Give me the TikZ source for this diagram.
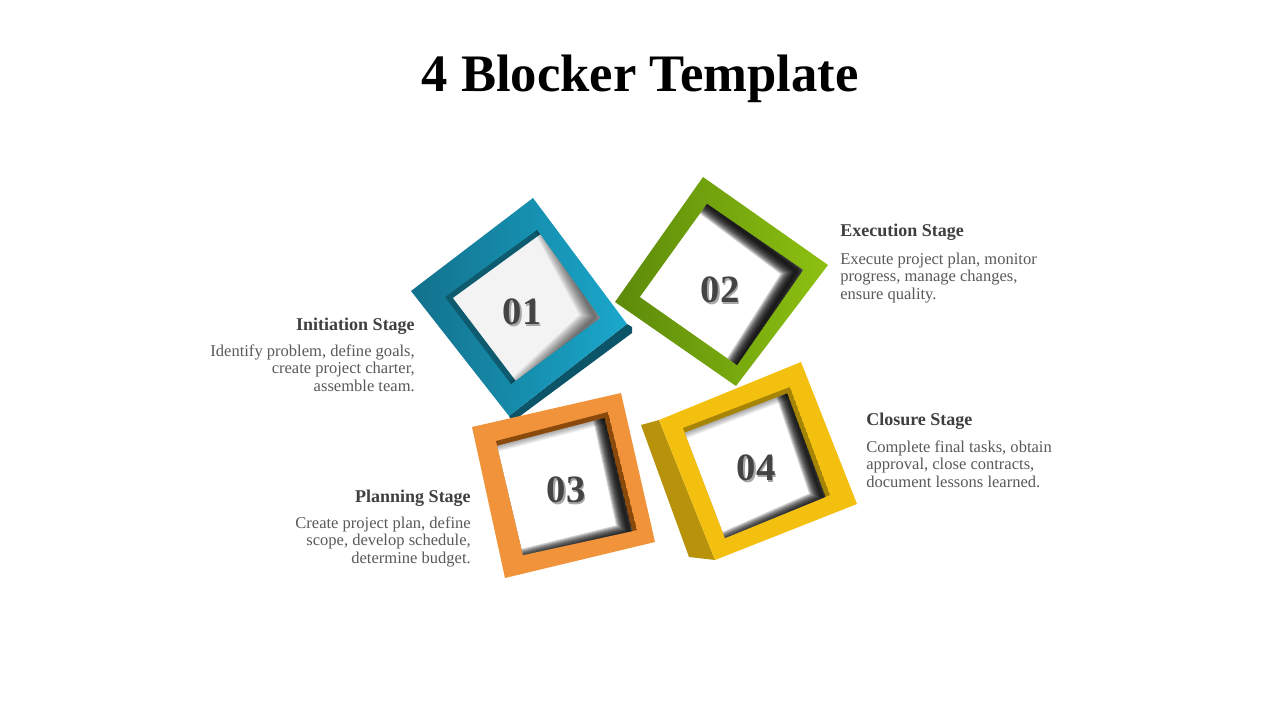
\documentclass[tikz,border=0pt]{standalone}
\usepackage{fontspec}
\setmainfont{Liberation Serif}
\usetikzlibrary{calc}
\definecolor{bluedark}{HTML}{12718C}
\definecolor{bluelight}{HTML}{1AA8CC}
\definecolor{blueside}{HTML}{0C5468}
\definecolor{bluestrip}{HTML}{0E5A6E}
\definecolor{greendark}{HTML}{5C8A0A}
\definecolor{greenlight}{HTML}{8EC111}
\definecolor{orangec}{HTML}{F0933A}
\definecolor{orangestrip}{HTML}{8A4A0C}
\definecolor{yellowc}{HTML}{F4C010}
\definecolor{yellowside}{HTML}{B8920A}
\definecolor{yellowstrip}{HTML}{A68406}
\definecolor{headgray}{HTML}{3F3F3F}
\definecolor{bodygray}{HTML}{595959}
\definecolor{numgray}{HTML}{444444}
\definecolor{paleface}{HTML}{F3F3F3}
\newcommand\shadnum[1]{\rlap{\hspace{1.4pt}\raisebox{-1.4pt}{\textcolor{black!35}{#1}}}#1}
\begin{document}
\begin{tikzpicture}[x=0.75pt,y=-0.75pt,
  titlestyle/.style={font=\fontsize{39.5}{44}\selectfont\bfseries, text=black, inner sep=0},
  numstyle/.style={font=\fontsize{29}{32}\selectfont\bfseries, text=numgray, inner sep=0},
  headstyle/.style={font=\fontsize{13.5}{15}\selectfont\bfseries, text=headgray, inner sep=0},
  bodystyle/.style={font=\fontsize{12.4}{13.1}\selectfont, text=bodygray, inner sep=0},
  hardshadow/.style={black, opacity=0.17, line join=round},
  softshadow/.style={black, opacity=0.055, line join=round}]
\useasboundingbox (0,0) rectangle (1280,720);
\fill[white] (0,0) rectangle (1280,720);

\node[titlestyle, anchor=base] (title) at (640,92) {4 Blocker Template};

% ---------- 01 blue ----------
\coordinate (bT) at (533,198);
\coordinate (bR) at (627,324);
\coordinate (bB) at (509,416);
\coordinate (bL) at (411,291);
\fill[blueside] (bR) -- ($(bR)+(5,3)$) -- ($(bR)+(5,9)$) -- ($(bB)+(3,6)$) -- (bB) -- cycle;
\shade[left color=bluedark, right color=bluelight] (bT) -- (bR) -- (bB) -- (bL) -- cycle;
\coordinate (bwT) at (537,230);
\coordinate (bwR) at (600,318);
\coordinate (bwB) at (511,384);
\coordinate (bwL) at (445,297);
\begin{scope}
  \clip (bwT) -- (bwR) -- (bwB) -- (bwL) -- cycle;
  \fill[bluestrip] (bwT) -- (bwR) -- (bwB) -- (bwL) -- cycle;
  \fill[paleface] ($(bwT)+(8,1)$) -- ($(bwR)+(8,1)$) -- ($(bwB)+(8,1)$) -- ($(bwL)+(8,1)$) -- cycle;
  \foreach \w in {2,4,...,26}
    \draw[softshadow, line width=\w*0.75pt] ($(bwT)!-0.1!(bwB)$) -- ($(bwR)!0.03!(bwL)$) -- ($(bwB)!-0.1!(bwT)$);
\end{scope}
\node[numstyle] (n1) at (522,313) {\shadnum{01}};

% ---------- 02 green ----------
\coordinate (gT) at (703,177);
\coordinate (gR) at (828,265);
\coordinate (gB) at (736,386);
\coordinate (gL) at (615,302);
\shade[left color=greendark, right color=greenlight] (gT) -- (gR) -- (gB) -- (gL) -- cycle;
\coordinate (gwT) at (707,204);
\coordinate (gwR) at (803,270);
\coordinate (gwB) at (737,365);
\coordinate (gwL) at (640,297);
\begin{scope}
  \clip (gwT) -- (gwR) -- (gwB) -- (gwL) -- cycle;
  \fill[white] (gwT) -- (gwR) -- (gwB) -- (gwL) -- cycle;
  \foreach \w in {2,4,...,24}
    \draw[hardshadow, line width=\w*0.75pt] (gwT) -- ($(gwR)!0.04!(gwL)$) -- (gwB);
\end{scope}
\node[numstyle] (n2) at (720,291) {\shadnum{02}};

% ---------- 03 orange ----------
\coordinate (oTL) at (472,427);
\coordinate (oTR) at (621,393);
\coordinate (oBR) at (655,542);
\coordinate (oBL) at (505,578);
\fill[orangec] (oTL) -- (oTR) -- (oBR) -- (oBL) -- cycle;
\coordinate (owTL) at (496,441);
\coordinate (owTR) at (608,412);
\coordinate (owBR) at (637,530);
\coordinate (owBL) at (523,555);
\coordinate (osTL) at ($(owTL)+(-3.7,6.1)$);
\coordinate (osTR) at ($(owTR)+(-3.7,6.1)$);
\coordinate (osBR) at ($(owBR)+(-3.7,6.1)$);
\coordinate (osBL) at ($(owBL)+(-3.7,6.1)$);
\begin{scope}
  \clip (owTL) -- (owTR) -- (owBR) -- (owBL) -- cycle;
  \fill[orangestrip] (owTL) -- (owTR) -- (owBR) -- (owBL) -- cycle;
  \clip (osTL) -- (osTR) -- (osBR) -- (osBL) -- cycle;
  \fill[white] (osTL) -- (osTR) -- (osBR) -- (osBL) -- cycle;
  \foreach \w in {2,4,...,12}
    \draw[hardshadow, opacity=0.06, line width=\w*0.75pt] ($(osTL)!-0.1!(osTR)$) -- (osTR);
  \foreach \w in {2,4,...,22}
    \draw[hardshadow, line width=\w*0.75pt] ($(osTR)!-0.1!(osBR)$) -- ($(osBR)!0.03!(osTL)$) -- ($(osBL)!-0.1!(osBR)$);
\end{scope}
\node[numstyle] (n3) at (566,491) {\shadnum{03}};

% ---------- 04 yellow ----------
\coordinate (yTL) at (659,420);
\coordinate (yTR) at (801,362);
\coordinate (yBR) at (857,504);
\coordinate (yBL) at (715,560);
\fill[yellowside] (yTL) -- (641,425) -- (689,557) -- (yBL) -- cycle;
\fill[yellowc] (yTL) -- (yTR) -- (yBR) -- (yBL) -- cycle;
\coordinate (ywTL) at (683,428);
\coordinate (ywTR) at (790,387);
\coordinate (ywBR) at (830,495);
\coordinate (ywBL) at (725,538);
\coordinate (ysTL) at ($(ywTL)+(-2.9,6.5)$);
\coordinate (ysTR) at ($(ywTR)+(-2.9,6.5)$);
\coordinate (ysBR) at ($(ywBR)+(-2.9,6.5)$);
\coordinate (ysBL) at ($(ywBL)+(-2.9,6.5)$);
\begin{scope}
  \clip (ywTL) -- (ywTR) -- (ywBR) -- (ywBL) -- cycle;
  \fill[yellowstrip] (ywTL) -- (ywTR) -- (ywBR) -- (ywBL) -- cycle;
  \clip (ysTL) -- (ysTR) -- (ysBR) -- (ysBL) -- cycle;
  \fill[white] (ysTL) -- (ysTR) -- (ysBR) -- (ysBL) -- cycle;
  \foreach \w in {2,4,...,12}
    \draw[hardshadow, opacity=0.06, line width=\w*0.75pt] ($(ysTL)!-0.1!(ysTR)$) -- (ysTR);
  \foreach \w in {2,4,...,22}
    \draw[hardshadow, line width=\w*0.75pt] ($(ysTR)!-0.1!(ysBR)$) -- ($(ysBR)!0.03!(ysTL)$) -- ($(ysBL)!-0.1!(ysBR)$);
\end{scope}
\node[numstyle] (n4) at (756,469) {\shadnum{04}};

% ---------- texts ----------
\node[headstyle, anchor=base east] (h1) at (415,330) {Initiation Stage};
\node[bodystyle, align=right, anchor=base east] (t1) at (415,391) {Identify problem, define goals,\\create project charter,\\assemble team.};
\node[headstyle, anchor=base west] (h2) at (840,237) {Execution Stage};
\node[bodystyle, align=left, anchor=base west] (t2) at (840,299) {Execute project plan, monitor\\progress, manage changes,\\ensure quality.};
\node[headstyle, anchor=base east] (h3) at (471,502) {Planning Stage};
\node[bodystyle, align=right, anchor=base east] (t3) at (471,563) {Create project plan, define\\scope, develop schedule,\\determine budget.};
\node[headstyle, anchor=base west] (h4) at (866,425) {Closure Stage};
\node[bodystyle, align=left, anchor=base west] (t4) at (866,487) {Complete final tasks, obtain\\approval, close contracts,\\document lessons learned.};
\end{tikzpicture}
\end{document}
